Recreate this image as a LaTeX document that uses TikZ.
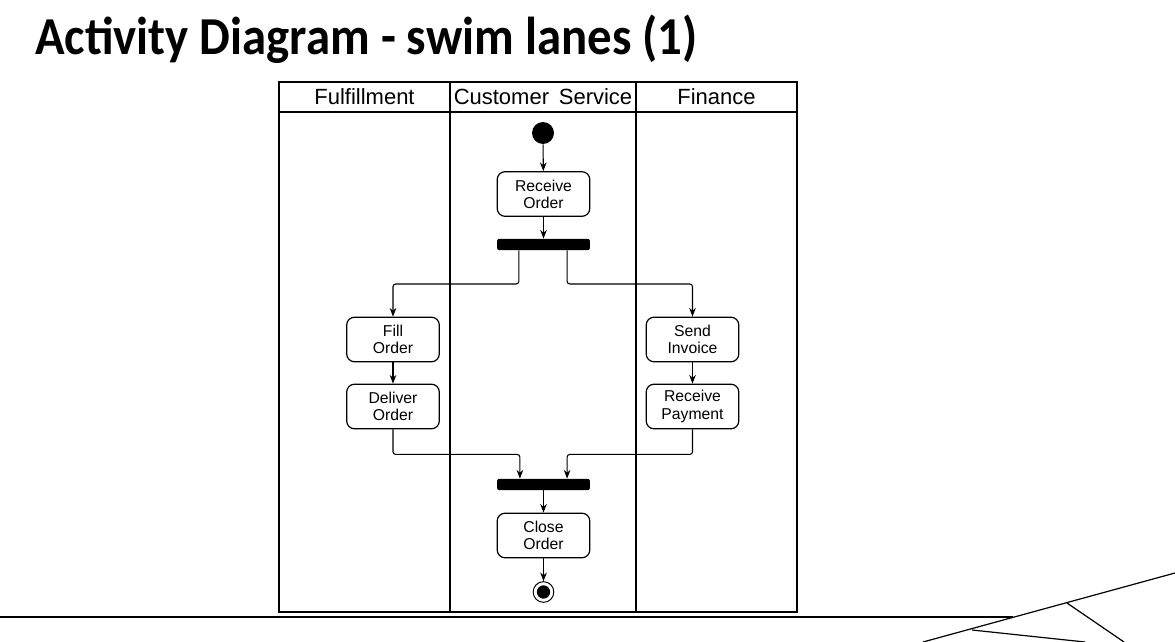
\documentclass[tikz,border=0pt]{standalone}
\usepackage{fontspec}
\setmainfont{Liberation Sans}
\newfontfamily\titlefont{Carlito}
\usetikzlibrary{arrows.meta}
\begin{document}
\begin{tikzpicture}[x=0.75pt,y=-0.75pt,
  lane/.style={line width=1.5pt},
  header/.style={font=\fontsize{16.5}{19}\selectfont, inner sep=0pt},
  action/.style={draw, line width=0.9pt, rounded corners=6pt, minimum width=69.5pt, minimum height=33.5pt, align=center, inner sep=0pt, font=\fontsize{11.8}{12.9}\selectfont},
  bar/.style={fill=black, rounded corners=1.5pt, minimum width=69.5pt, minimum height=8.5pt, inner sep=0pt},
  flow/.style={line width=0.8pt, -{Stealth[length=6.5pt,width=5pt]}, rounded corners=2pt},
  deco/.style={line width=0.9pt}
]
\useasboundingbox (0,0) rectangle (1175,642);
% title
\node[anchor=base west, inner sep=0pt, font=\titlefont\bfseries\fontsize{40}{48}\selectfont] (title) at (35,55) {\scalebox{0.915}[1]{Activity Diagram - swim lanes (1)}};
% lanes
\draw[lane] (279,82) rectangle (797,612);
\draw[lane] (279,112) -- (797,112);
\draw[lane] (450,82) -- (450,612);
\draw[lane] (636,82) -- (636,612);
\node[header] (hf) at (364.5,97) {Fulfillment};
\node[header] (hc) at (543,97) {Customer\ \,Service};
\node[header] (hn) at (716.5,97) {Finance};
% nodes
\node[circle, fill=black, minimum size=16.5pt, inner sep=0pt] (start) at (543,133) {};
\node[action] (recv) at (543.5,194) {Receive\\Order};
\node[bar] (fork) at (543.5,244.5) {};
\node[action] (fill) at (393,339.5) {Fill\\Order};
\node[action] (deliver) at (393,406.5) {Deliver\\Order};
\node[action] (send) at (692.5,339.5) {Send\\Invoice};
\node[action] (pay) at (692.5,406.5) {Receive\\Payment};
\node[bar] (join) at (543.5,484.5) {};
\node[action] (close) at (543.5,535.5) {Close\\Order};
\node[circle, draw, line width=0.75pt, minimum size=15.5pt, inner sep=0pt] (end) at (543.5,592) {};
\node[circle, fill=black, minimum size=10pt, inner sep=0pt] (endin) at (543.5,592) {};
% flows
\draw[flow] (start) -- (recv);
\draw[flow] (recv) -- (fork);
\draw[flow] (fork.south west) ++(22,0) coordinate (f1) -- (f1 |- 0,284) -| (fill.north);
\draw[flow] (fork.south east) ++(-23,0) coordinate (f2) -- (f2 |- 0,284) -| (send.north);
\draw[flow] (fill) -- (deliver);
\draw[flow] (send) -- (pay);
\draw[flow] (deliver.south) -- ++(0,25) -| ([xshift=23*0.75pt]join.north west);
\draw[flow] (pay.south) -- ++(0,25) -| ([xshift=-23*0.75pt]join.north east);
\draw[flow] (join) -- (close);
\draw[flow] (close) -- (end);
% decoration
\draw[deco] (0,617) -- (1013,617);
\draw[deco] (923,642) -- (1175,573);
\draw[deco] (972,630) -- (1085,642);
\draw[deco] (1067,603) -- (1124,642);
\end{tikzpicture}
\end{document}
